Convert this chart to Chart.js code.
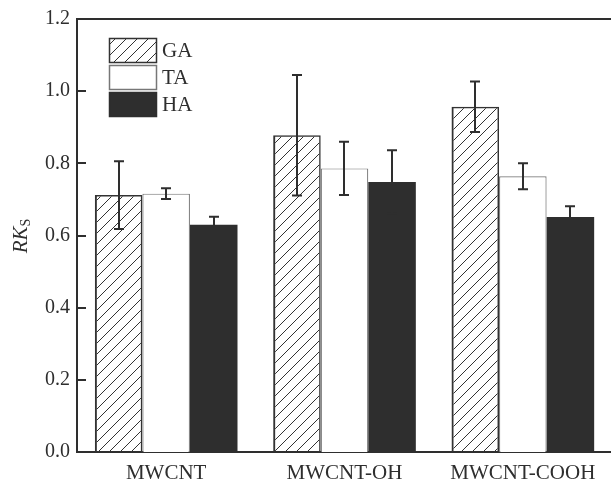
<!DOCTYPE html>
<html>
<head>
<meta charset="utf-8">
<script src="https://cdn.jsdelivr.net/npm/chart.js@4.4.1/dist/chart.umd.min.js"></script>
<style>
  html, body { margin: 0; padding: 0; background: #fff; overflow: hidden; }
  #wrap { width: 612px; height: 483px; }
</style>
</head>
<body>
<div id="wrap"><canvas id="c" width="612" height="483"></canvas></div>
<script>
// Relative sorption coefficients for three acids on three nanotube types
const categories = ['MWCNT', 'MWCNT-OH', 'MWCNT-COOH'];
const seriesNames = ['GA', 'TA', 'HA'];
const valuesGA = [0.712, 0.878, 0.957];
const valuesTA = [0.716, 0.786, 0.764];
const valuesHA = [0.630, 0.748, 0.651];
const errorsGA = [0.094, 0.167, 0.070];
const errorsTA = [0.015, 0.074, 0.036];
const errorsHA = [0.022, 0.088, 0.030];
const yTicks = [0, 0.2, 0.4, 0.6, 0.8, 1.0, 1.2];

const INK = '#2e2e2e';
const FONT = '"Liberation Serif", "DejaVu Serif", serif';

// diagonal hatch fill
function makeHatch() {
  const s = 11;
  const t = document.createElement('canvas');
  t.width = s; t.height = s;
  const g = t.getContext('2d');
  g.strokeStyle = '#333';
  g.lineWidth = 1;
  g.beginPath();
  g.moveTo(0, s); g.lineTo(s, 0);
  g.moveTo(-2, 2); g.lineTo(2, -2);
  g.moveTo(s - 2, s + 2); g.lineTo(s + 2, s - 2);
  g.stroke();
  return document.createElement('canvas').getContext('2d').createPattern(t, 'repeat');
}
const hatch = makeHatch();

const errorSets = [errorsGA, errorsTA, errorsHA];

// error bars, inward y ticks, top frame line, y title and legend
const decorations = {
  id: 'decorations',
  afterDatasetsDraw(chart) {
    const ctx = chart.ctx;
    const ys = chart.scales.y;
    const area = chart.chartArea;
    ctx.save();
    ctx.strokeStyle = INK;
    ctx.lineWidth = 2;
    chart.data.datasets.forEach((ds, di) => {
      const meta = chart.getDatasetMeta(di);
      meta.data.forEach((bar, i) => {
        const v = ds.data[i];
        const e = errorSets[di][i];
        const x = Math.round(bar.x);
        const yTop = ys.getPixelForValue(v + e);
        const yBot = ys.getPixelForValue(v - e);
        ctx.beginPath();
        ctx.moveTo(x, yTop); ctx.lineTo(x, yBot);
        ctx.moveTo(x - 5, yTop); ctx.lineTo(x + 5, yTop);
        ctx.moveTo(x - 5, yBot); ctx.lineTo(x + 5, yBot);
        ctx.stroke();
      });
    });
    // inward tick marks
    yTicks.forEach(t => {
      const y = Math.round(ys.getPixelForValue(t));
      ctx.beginPath();
      ctx.moveTo(area.left, y); ctx.lineTo(area.left + 9, y);
      ctx.stroke();
    });
    // top frame
    ctx.beginPath();
    ctx.moveTo(area.left - 1, area.top); ctx.lineTo(chart.width, area.top);
    ctx.stroke();

    // y axis title: RK with subscript S
    ctx.fillStyle = INK;
    ctx.translate(27, 236);
    ctx.rotate(-Math.PI / 2);
    ctx.textBaseline = 'alphabetic';
    ctx.textAlign = 'left';
    ctx.font = 'italic 21px ' + FONT;
    const main = 'RK';
    const wMain = ctx.measureText(main).width;
    ctx.font = '14px ' + FONT;
    const wSub = ctx.measureText('S').width;
    const x0 = -(wMain + wSub) / 2;
    ctx.font = 'italic 21px ' + FONT;
    ctx.fillText(main, x0, 0);
    ctx.font = '14px ' + FONT;
    ctx.fillText('S', x0 + wMain, 3);
    ctx.restore();

    // legend
    ctx.save();
    const lx = 109, lw = 47, lh = 24;
    const rows = [38, 65, 92];
    chart.data.datasets.forEach((ds, di) => {
      const y = rows[di];
      ctx.fillStyle = ds.backgroundColor;
      ctx.fillRect(lx, y, lw, lh);
      ctx.strokeStyle = ds.borderColor;
      ctx.lineWidth = 1.5;
      ctx.strokeRect(lx + 0.5, y + 0.5, lw, lh);
      ctx.fillStyle = INK;
      ctx.font = '21px ' + FONT;
      ctx.textAlign = 'left';
      ctx.textBaseline = 'middle';
      ctx.fillText(ds.label, lx + lw + 6, y + lh / 2 + 1);
    });
    ctx.restore();
  }
};

new Chart(document.getElementById('c'), {
  type: 'bar',
  data: {
    labels: categories,
    datasets: [
      { label: seriesNames[0], data: valuesGA, backgroundColor: hatch, borderColor: '#333', borderWidth: { left: 2, right: 1.5, top: 1.5 } },
      { label: seriesNames[1], data: valuesTA, backgroundColor: '#ffffff', borderColor: '#777', borderWidth: 1.2 },
      { label: seriesNames[2], data: valuesHA, backgroundColor: '#2e2e2e', borderColor: '#2e2e2e', borderWidth: 0 }
    ]
  },
  options: {
    responsive: false,
    animation: false,
    events: [],
    layout: { padding: { top: 18, right: 0, left: 0, bottom: 0 } },
    datasets: { bar: { categoryPercentage: 0.8, barPercentage: 1.0 } },
    plugins: { legend: { display: false }, tooltip: { enabled: false } },
    scales: {
      x: {
        grid: { display: false, drawTicks: false },
        border: { display: true, color: INK, width: 2 },
        ticks: { color: INK, font: { family: FONT, size: 21 }, padding: 9 },
        afterFit(s) { s.height = 31; }
      },
      y: {
        min: 0, max: 1.2,
        afterBuildTicks(s) { s.ticks = yTicks.map(v => ({ value: v })); },
        grid: { display: false, drawTicks: false },
        border: { display: true, color: INK, width: 2 },
        ticks: { color: INK, font: { family: FONT, size: 20 }, padding: 7,
                 callback: v => Number(v).toFixed(1) },
        afterFit(s) { s.width = 77; }
      }
    }
  },
  plugins: [decorations]
});
</script>
</body>
</html>
